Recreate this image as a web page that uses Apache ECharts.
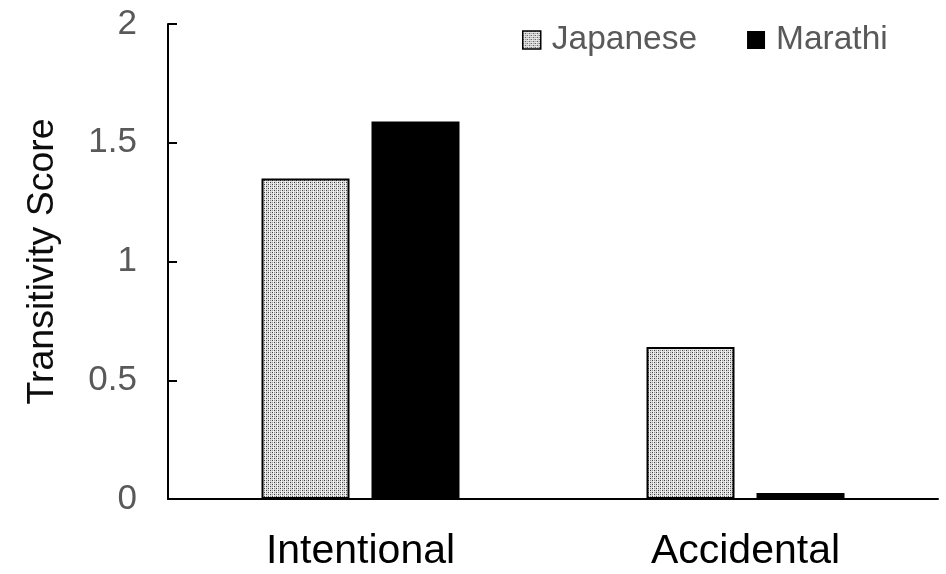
<!DOCTYPE html>
<html>
<head>
<meta charset="utf-8">
<script src="https://cdn.jsdelivr.net/npm/echarts@6/dist/echarts.min.js"></script>
<style>
  html, body { margin: 0; padding: 0; background: #fff; }
  #chart { width: 946px; height: 574px; }
</style>
</head>
<body>
<div id="chart"></div>
<script>
// Conditions on the x axis
const categories = ['Intentional', 'Accidental'];
// Mean transitivity score per language group
const japanese = [1.35, 0.64];
const marathi = [1.59, 0.025];
// Y axis range and step
const yMin = 0;
const yMax = 2;
const yStep = 0.5;

// Stippled grey fill used for the Japanese bars
function makeStipple() {
  const c = document.createElement('canvas');
  c.width = 4; c.height = 4;
  const g = c.getContext('2d');
  g.fillStyle = '#dedede';
  g.fillRect(0, 0, 4, 4);
  g.fillStyle = '#404040';
  g.fillRect(0, 0, 1, 1);
  g.fillRect(2, 2, 1, 1);
  g.fillStyle = '#939393';
  g.fillRect(2, 0, 1, 1);
  g.fillRect(0, 2, 1, 1);
  g.fillStyle = '#f2f2f2';
  g.fillRect(1, 0, 1, 4);
  return c;
}
const stipple = { image: makeStipple(), repeat: 'repeat' };

const font = '"Liberation Sans", Arial, sans-serif';
const chart = echarts.init(document.getElementById('chart'), null, { renderer: 'canvas' });

chart.setOption({
  animation: false,
  backgroundColor: '#ffffff',
  textStyle: { fontFamily: font },
  grid: { left: 168, right: 8, top: 24, bottom: 75, containLabel: false },
  legend: {
    left: 517,
    top: 18,
    itemWidth: 18,
    itemHeight: 18,
    itemGap: 50,
    textStyle: { fontFamily: font, fontSize: 33.5, color: '#595959', padding: [0, 0, 0, 6] },
    data: [
      { name: 'Japanese', icon: 'rect', itemStyle: { color: stipple, borderColor: '#000', borderWidth: 1.5 } },
      { name: 'Marathi', icon: 'rect', itemStyle: { color: '#000' } }
    ]
  },
  xAxis: {
    type: 'category',
    data: categories,
    axisLine: { show: true, lineStyle: { color: '#000', width: 2 } },
    axisTick: { show: false },
    axisLabel: { fontFamily: font, fontSize: 41, color: '#000', margin: 32 },
    splitLine: { show: false }
  },
  yAxis: {
    type: 'value',
    min: yMin,
    max: yMax,
    interval: yStep,
    name: 'Transitivity Score',
    nameLocation: 'middle',
    nameGap: 106,
    nameTextStyle: { fontFamily: font, fontSize: 37.5, color: '#0d0d0d' },
    axisLine: { show: true, lineStyle: { color: '#000', width: 2 } },
    axisTick: { show: true, inside: true, length: 9, lineStyle: { color: '#000', width: 2 } },
    axisLabel: { fontFamily: font, fontSize: 35, color: '#595959', margin: 31 },
    splitLine: { show: false }
  },
  series: [
    {
      name: 'Japanese',
      type: 'bar',
      data: japanese,
      barWidth: 88,
      barGap: '25%',
      itemStyle: { color: stipple, borderColor: '#000', borderWidth: 2 }
    },
    {
      name: 'Marathi',
      type: 'bar',
      data: marathi,
      barWidth: 88,
      barGap: '25%',
      itemStyle: { color: '#000' }
    }
  ]
});
</script>
</body>
</html>
